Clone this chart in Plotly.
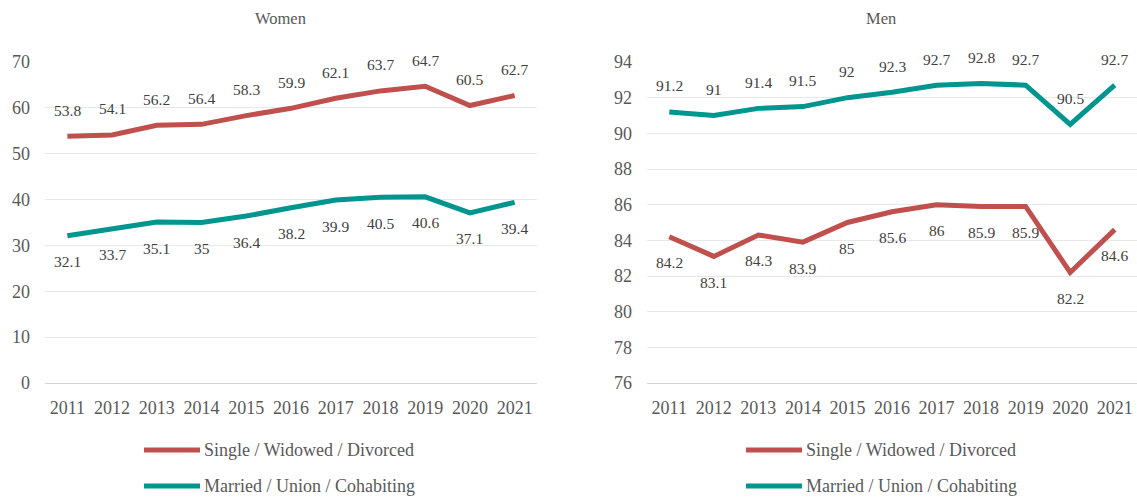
import plotly.graph_objects as go
from plotly.subplots import make_subplots

years = ["2011", "2012", "2013", "2014", "2015", "2016", "2017", "2018", "2019", "2020", "2021"]

women_single = [53.8, 54.1, 56.2, 56.4, 58.3, 59.9, 62.1, 63.7, 64.7, 60.5, 62.7]
women_married = [32.1, 33.7, 35.1, 35, 36.4, 38.2, 39.9, 40.5, 40.6, 37.1, 39.4]
men_single = [84.2, 83.1, 84.3, 83.9, 85, 85.6, 86, 85.9, 85.9, 82.2, 84.6]
men_married = [91.2, 91, 91.4, 91.5, 92, 92.3, 92.7, 92.8, 92.7, 90.5, 92.7]

series_names = ["Single / Widowed / Divorced", "Married / Union / Cohabiting"]
panel_titles = ["Women", "Men"]

RED = "#C0504D"
TEAL = "#00958F"
FONT = "Liberation Serif"
TICK_COLOR = "#595959"
LABEL_COLOR = "#404040"

W, H = 1137, 499

fig = make_subplots(rows=1, cols=2)

panels = [
    # (col, single, married, single label side, married label side)
    (1, women_single, women_married, 1, -1),
    (2, men_single, men_married, -1, 1),
]

annotations = []
for col, single, married, s_side, m_side in panels:
    xr = "x" if col == 1 else "x2"
    yr = "y" if col == 1 else "y2"
    for vals, color, name, side in [
        (single, RED, series_names[0], s_side),
        (married, TEAL, series_names[1], m_side),
    ]:
        fig.add_trace(
            go.Scatter(
                x=years, y=vals, mode="lines", name=name,
                line=dict(color=color, width=5),
                showlegend=False, hoverinfo="x+y",
            ),
            row=1, col=col,
        )
        # value labels; category axes place annotations by category index
        for i, yv in enumerate(vals):
            annotations.append(dict(
                x=i, y=yv, xref=xr, yref=yr, text=f"{yv:g}",
                showarrow=False, yshift=26 * side,
                font=dict(family=FONT, size=15.5, color=LABEL_COLOR),
            ))

# panel domains (left/right plot areas)
left_dom = [45 / W, 537 / W]
right_dom = [647 / W, 1.0]
y_dom = [(H - 383) / H, (H - 62) / H]

axis_font = dict(family=FONT, size=18, color=TICK_COLOR)
for i, dom in [(1, left_dom), (2, right_dom)]:
    fig.update_xaxes(
        domain=dom, row=1, col=i, type="category",
        range=[-0.5, len(years) - 0.5], automargin=False,
        showgrid=False, showline=True, linecolor="#D4D4D4", linewidth=1,
        ticks="", tickfont=axis_font, ticklabelstandoff=8,
        zeroline=False,
    )

fig.update_yaxes(domain=y_dom, row=1, col=1, range=[0, 70], dtick=10,
                 tick0=0, showgrid=True, gridcolor="#E8E8E8", gridwidth=1,
                 zeroline=False, showline=False, tickfont=axis_font,
                 ticks="", ticklabelstandoff=14, automargin=False)
fig.update_yaxes(domain=y_dom, row=1, col=2, range=[76, 94], dtick=2,
                 tick0=76, showgrid=True, gridcolor="#E8E8E8", gridwidth=1,
                 zeroline=False, showline=False, tickfont=axis_font,
                 ticks="", ticklabelstandoff=14, automargin=False)

# panel titles
for title, xc in [(panel_titles[0], 280 / W), (panel_titles[1], 881 / W)]:
    annotations.append(dict(
        x=xc, y=(H - 18) / H, xref="paper", yref="paper", text=title,
        showarrow=False, xanchor="center", yanchor="middle",
        font=dict(family=FONT, size=16.5, color=TICK_COLOR),
    ))

# legends under each panel
shapes = []
for x0 in [144, 746]:
    for name, color, yc in [(series_names[0], RED, 450), (series_names[1], TEAL, 486)]:
        shapes.append(dict(
            type="line", xref="paper", yref="paper",
            x0=x0 / W, x1=(x0 + 56) / W, y0=(H - yc) / H, y1=(H - yc) / H,
            line=dict(color=color, width=5),
        ))
        annotations.append(dict(
            x=(x0 + 58) / W, y=(H - yc) / H, xref="paper", yref="paper",
            text=name, showarrow=False, xanchor="left", yanchor="middle",
            font=dict(family=FONT, size=18, color=TICK_COLOR),
        ))

fig.update_layout(
    width=W, height=H,
    margin=dict(l=0, r=0, t=0, b=0, pad=0, autoexpand=False),
    paper_bgcolor="white", plot_bgcolor="white",
    annotations=annotations, shapes=shapes,
    showlegend=False,
)

fig.write_html("out.html")
